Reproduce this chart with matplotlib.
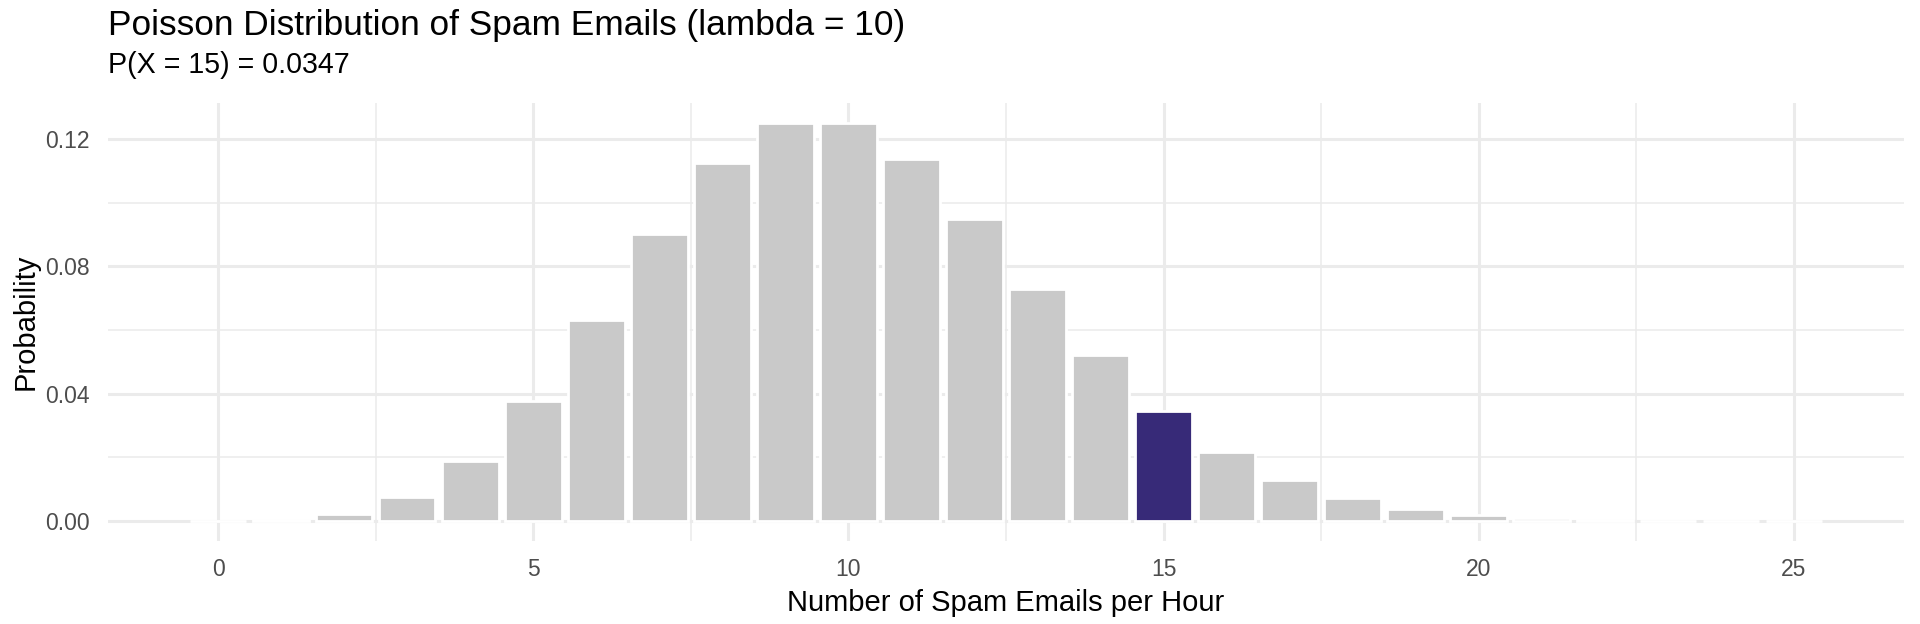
import matplotlib.pyplot as plt
from matplotlib.ticker import MultipleLocator

plt.rcParams['font.family'] = ['Liberation Sans', 'DejaVu Sans']

# Poisson(10) probabilities
emails = list(range(0, 26))
probability = [0.0000454, 0.000454, 0.00227, 0.00757, 0.0189, 0.0378,
               0.0631, 0.0901, 0.1126, 0.1251, 0.1251, 0.1137, 0.0948,
               0.0729, 0.0521, 0.0347, 0.0217, 0.0128, 0.0071, 0.0037,
               0.0019, 0.00089, 0.00040, 0.00018, 0.000072, 0.000029]
highlight = 15
y_ticks = [0.00, 0.04, 0.08, 0.12]
x_ticks = [0, 5, 10, 15, 20, 25]

colors = ['#372A78' if k == highlight else '#C9C9C9' for k in emails]

fig, ax = plt.subplots(figsize=(19.2, 6.24), dpi=100)
fig.subplots_adjust(left=0.05625, right=0.99167, top=0.835, bottom=0.133)

ax.bar(emails, probability, width=0.9, color=colors, edgecolor='white',
       linewidth=2.0, zorder=3)

# axis limits like ggplot's 5% expansion
lo, hi = -0.45, 25.45
pad = (hi - lo) * 0.05
ax.set_xlim(lo - pad, hi + pad)
ymax = max(probability)
ax.set_ylim(-ymax * 0.05, ymax * 1.05)

ax.set_xticks(x_ticks)
ax.set_yticks(y_ticks)
ax.set_yticklabels([f"{v:.2f}" for v in y_ticks])
ax.xaxis.set_minor_locator(MultipleLocator(2.5))
ax.yaxis.set_minor_locator(MultipleLocator(0.02))

ax.grid(which='major', color='#EBEBEB', linewidth=2.2, zorder=0)
ax.grid(which='minor', color='#EBEBEB', linewidth=1.1, zorder=0)
ax.set_axisbelow(True)

for s in ax.spines.values():
    s.set_visible(False)
ax.tick_params(which='both', length=0)
ax.tick_params(axis='both', labelsize=16.5, colors='#4D4D4D')
ax.tick_params(axis='x', pad=12)
ax.tick_params(axis='y', pad=13)

ax.set_xlabel('Number of Spam Emails per Hour', fontsize=21, color='black', labelpad=6)
ax.set_ylabel('Probability', fontsize=21, color='black', labelpad=4)

fig.text(108 / 1920, 1 - 35 / 624, 'Poisson Distribution of Spam Emails (lambda = 10)',
         fontsize=25.4, ha='left', va='baseline')
fig.text(108 / 1920, 1 - 73 / 624, f'P(X = {highlight}) = {probability[highlight]:.4f}',
         fontsize=20.6, ha='left', va='baseline')

fig.savefig('out.png', dpi=100)
